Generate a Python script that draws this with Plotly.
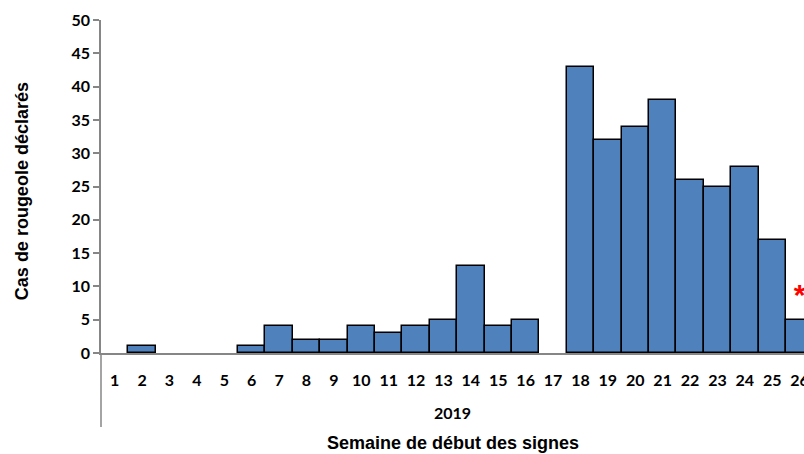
import plotly.graph_objects as go

weeks = list(range(1, 27))
cases = [0, 1, 0, 0, 0, 1, 4, 2, 2, 4, 3, 4, 5, 13, 4, 5, 0, 43, 32, 34, 38, 26, 25, 28, 17, 5]
week_labels = [str(w) for w in weeks]
year_label = "2019"
x_title = "Semaine de début des signes"
y_title = "Cas de rougeole déclarés"
star_week = [26]
star_y = [8.3]

tick_font = dict(family="Lato, Liberation Sans", size=16, color="black", weight="bold")
title_font = dict(family="Liberation Sans Narrow, Liberation Sans", size=18, color="black", weight="bold")

fig = go.Figure()
fig.add_trace(go.Bar(
    x=weeks, y=cases,
    marker=dict(color="#4F81BD",
                line=dict(color="black", width=[1.5 if v > 0 else 0 for v in cases])),
    showlegend=False, hoverinfo="x+y",
))
fig.add_trace(go.Scatter(
    x=star_week, y=star_y, mode="text", text=["*"],
    textfont=dict(color="#FF0000", size=30, family="Liberation Sans", weight="bold"),
    textposition="middle center", showlegend=False, cliponaxis=False,
))

fig.update_layout(
    width=804, height=454,
    margin=dict(l=101, r=0, t=20, b=101, autoexpand=False),
    paper_bgcolor="white", plot_bgcolor="white",
    bargap=0,
    xaxis=dict(
        range=[0.5, 26.16], tickmode="array", tickvals=weeks, ticktext=week_labels,
        showline=True, linecolor="#868686", linewidth=1.5, ticks="",
        tickfont=tick_font, ticklabelstandoff=12, ticklabeloverflow="allow",
        automargin=False, showgrid=False, zeroline=False,
    ),
    yaxis=dict(
        range=[0, 50], dtick=5, showline=True, linecolor="#868686", linewidth=1.5,
        ticks="outside", ticklen=6, tickcolor="#868686", tickwidth=1.5,
        tickfont=tick_font, automargin=False, showgrid=False, zeroline=False,
    ),
    annotations=[
        dict(text=y_title, xref="paper", yref="paper", x=-0.1124, y=0.486, showarrow=False,
             textangle=-90, font=title_font, xanchor="center", yanchor="middle"),
        dict(text=year_label, xref="paper", yref="paper", x=0.5, y=-0.18, showarrow=False,
             font=tick_font, yanchor="middle"),
        dict(text=x_title, xref="paper", yref="paper", x=0.5, y=-0.27, showarrow=False,
             font=title_font, yanchor="middle"),
    ],
    shapes=[
        dict(type="line", xref="paper", yref="paper", x0=0, x1=0, y0=0, y1=-0.222,
             line=dict(color="#868686", width=1.5)),
    ],
)

fig.write_html(
    "out.html",
    config={"displayModeBar": False},
    post_script="document.body.style.margin='0px';document.body.style.overflow='hidden';",
)
